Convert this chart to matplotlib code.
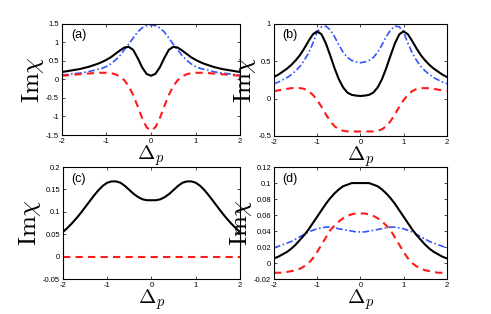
import numpy as np
import matplotlib
matplotlib.use('Agg')
import matplotlib.pyplot as plt

plt.rcParams['mathtext.fontset'] = 'cm'
plt.rcParams['axes.unicode_minus'] = False
plt.rcParams['font.family'] = ['Liberation Sans', 'DejaVu Sans']

# detuning grid, -2..2 step 0.1
delta = np.round(np.arange(-20, 21) / 10.0, 2)

# ---------------- panel (a) ----------------
a_black = [0.20, 0.22, 0.24, 0.26, 0.28, 0.31, 0.34, 0.38, 0.42, 0.47, 0.53, 0.60, 0.69, 0.78, 0.86, 0.88,
           0.80, 0.58, 0.33, 0.15, 0.10,
           0.15, 0.33, 0.58, 0.80, 0.88, 0.86, 0.78, 0.69, 0.60, 0.53, 0.47, 0.42, 0.38, 0.34, 0.31,
           0.28, 0.26, 0.24, 0.22, 0.20]
a_red = [0.10, 0.11, 0.12, 0.13, 0.14, 0.15, 0.16, 0.17, 0.18, 0.18, 0.18, 0.17, 0.14, 0.08, -0.02, -0.18,
         -0.42, -0.72, -1.04, -1.29, -1.38,
         -1.29, -1.04, -0.72, -0.42, -0.18, -0.02, 0.08, 0.14, 0.17, 0.18, 0.18, 0.18, 0.17, 0.16, 0.15,
         0.14, 0.13, 0.12, 0.11, 0.10]
a_blue = [0.12, 0.13, 0.14, 0.16, 0.17, 0.19, 0.21, 0.24, 0.27, 0.30, 0.35, 0.42, 0.52, 0.64, 0.80, 0.95,
          1.12, 1.28, 1.39, 1.45, 1.47,
          1.45, 1.39, 1.28, 1.12, 0.95, 0.80, 0.64, 0.52, 0.42, 0.35, 0.30, 0.27, 0.24, 0.21, 0.19,
          0.17, 0.16, 0.14, 0.13, 0.12]

# ---------------- panel (b) ----------------
b_black = [0.29, 0.32, 0.36, 0.40, 0.45, 0.51, 0.58, 0.67, 0.77, 0.86, 0.90, 0.86, 0.74, 0.58, 0.41, 0.26,
           0.15, 0.08, 0.05, 0.04, 0.035,
           0.04, 0.05, 0.08, 0.15, 0.26, 0.41, 0.58, 0.74, 0.86, 0.90, 0.86, 0.77, 0.67, 0.58, 0.51,
           0.45, 0.40, 0.36, 0.32, 0.29]
b_red = [0.10, 0.11, 0.12, 0.13, 0.14, 0.14, 0.14, 0.13, 0.10, 0.05, -0.02, -0.11, -0.21, -0.30, -0.37, -0.41,
         -0.43, -0.44, -0.44, -0.44, -0.44,
         -0.44, -0.44, -0.44, -0.43, -0.41, -0.37, -0.30, -0.21, -0.11, -0.02, 0.05, 0.10, 0.13, 0.14, 0.14,
         0.14, 0.13, 0.12, 0.11, 0.10]
b_blue = [0.20, 0.22, 0.25, 0.28, 0.32, 0.37, 0.43, 0.51, 0.61, 0.74, 0.89, 0.96, 0.97, 0.92, 0.83, 0.72,
          0.62, 0.55, 0.51, 0.49, 0.48,
          0.49, 0.51, 0.55, 0.62, 0.72, 0.83, 0.92, 0.97, 0.96, 0.89, 0.74, 0.61, 0.51, 0.43, 0.37,
          0.32, 0.28, 0.25, 0.22, 0.20]

# ---------------- panel (c) ----------------
c_black = [0.055, 0.064, 0.074, 0.085, 0.097, 0.110, 0.123, 0.136, 0.148, 0.158, 0.165, 0.168, 0.168, 0.165,
           0.158, 0.149, 0.140, 0.133, 0.128, 0.126, 0.126,
           0.126, 0.128, 0.133, 0.140, 0.149, 0.158, 0.165, 0.168, 0.168, 0.165, 0.158, 0.148, 0.136,
           0.123, 0.110, 0.097, 0.085, 0.074, 0.064, 0.055]
c_red = [0.0] * 41
c_blue = None  # hidden under the red line in the original

# ---------------- panel (d) ----------------
d_black = [0.006, 0.008, 0.011, 0.014, 0.018, 0.023, 0.029, 0.035, 0.042, 0.050, 0.058, 0.066, 0.074, 0.081,
           0.087, 0.092, 0.096, 0.098, 0.100, 0.100, 0.100,
           0.100, 0.100, 0.098, 0.096, 0.092, 0.087, 0.081, 0.074, 0.066, 0.058, 0.050, 0.042, 0.035,
           0.029, 0.023, 0.018, 0.014, 0.011, 0.008, 0.006]
d_red = [-0.012, -0.012, -0.012, -0.011, -0.010, -0.009, -0.007, -0.004, 0.000, 0.006, 0.014, 0.023, 0.032,
         0.041, 0.047, 0.052, 0.056, 0.059, 0.061, 0.062, 0.062,
         0.062, 0.061, 0.059, 0.056, 0.052, 0.047, 0.041, 0.032, 0.023, 0.014, 0.006, 0.000, -0.004,
         -0.007, -0.009, -0.010, -0.011, -0.012, -0.012, -0.012]
d_blue = [0.019, 0.021, 0.023, 0.025, 0.027, 0.030, 0.033, 0.036, 0.039, 0.041, 0.043, 0.044, 0.045, 0.045,
          0.044, 0.043, 0.042, 0.041, 0.040, 0.039, 0.039,
          0.039, 0.040, 0.041, 0.042, 0.043, 0.044, 0.045, 0.045, 0.044, 0.043, 0.041, 0.039, 0.036,
          0.033, 0.030, 0.027, 0.025, 0.023, 0.021, 0.019]

panels = [
    ('(a)', a_black, a_red, a_blue, (-1.5, 1.5), [-1.5, -1, -0.5, 0, 0.5, 1, 1.5],
     [0.126, 0.570, 0.363, 0.354]),
    ('(b)', b_black, b_red, b_blue, (-0.5, 1.0), [-0.5, 0, 0.5, 1],
     [0.558, 0.567, 0.352, 0.357]),
    ('(c)', c_black, c_red, c_blue, (-0.05, 0.2), [-0.05, 0, 0.05, 0.1, 0.15, 0.2],
     [0.128, 0.111, 0.361, 0.357]),
    ('(d)', d_black, d_red, d_blue, (-0.02, 0.12), [-0.02, 0, 0.02, 0.04, 0.06, 0.08, 0.1, 0.12],
     [0.558, 0.111, 0.352, 0.357]),
]

fig = plt.figure(figsize=(4.91, 3.14), dpi=100)

for name, yk, yr, yb, ylim, yt, rect in panels:
    ax = fig.add_axes(rect)
    if yb is not None:
        ax.plot(delta, yb, color='#3355ff', lw=1.2, ls=(0, (4, 1.5, 1, 1.5)))
    ax.plot(delta, yk, color='black', lw=1.5, solid_joinstyle='round')
    ax.plot(delta, yr, color='#ff1a1a', lw=1.5, ls=(0, (3.5, 2.5)))
    ax.set_xlim(-2, 2)
    ax.set_ylim(*ylim)
    ax.set_xticks([-2, -1, 0, 1, 2])
    ax.set_yticks(yt)
    ax.set_yticklabels(['%g' % v for v in yt])
    ax.tick_params(direction='in', top=True, right=True, labelsize=5.5, length=2.5, width=0.5, pad=2)
    for s in ax.spines.values():
        s.set_linewidth(0.8)
    ax.set_xlabel(r'$\Delta_p$', fontsize=15, labelpad=-1)
    ax.set_ylabel(r'$\mathrm{Im}\chi$', fontsize=18, labelpad=0)
    ax.text(0.05, 0.95, name, transform=ax.transAxes, fontsize=9, va='top', ha='left')

fig.savefig('out.png', dpi=100)
